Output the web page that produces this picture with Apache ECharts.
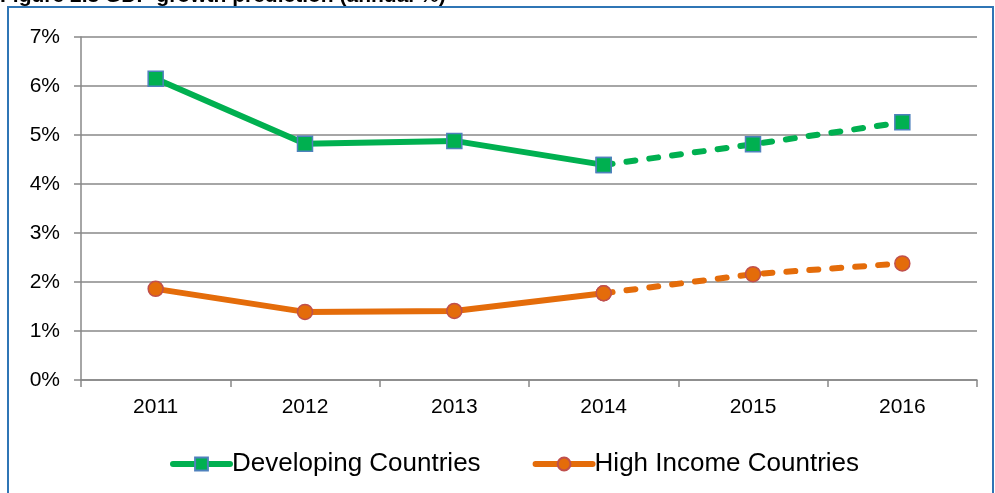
<!DOCTYPE html>
<html>
<head>
<meta charset="utf-8">
<script src="https://cdn.jsdelivr.net/npm/echarts@6/dist/echarts.min.js"></script>
<style>
  html, body { margin: 0; padding: 0; background: #fff; }
  #chart { width: 995px; height: 493px; }
</style>
</head>
<body>
<div id="chart"></div>
<script>
var years = ['2011', '2012', '2013', '2014', '2015', '2016'];
var yTicks = [0, 1, 2, 3, 4, 5, 6, 7];
// actual values up to 2014, forecast from 2014 onwards
var developingActual = [6.15, 4.82, 4.88, 4.39, null, null];
var developingForecast = [null, null, null, 4.39, 4.81, 5.26];
var highIncomeActual = [1.86, 1.39, 1.41, 1.77, null, null];
var highIncomeForecast = [null, null, null, 1.77, 2.16, 2.38];

var green = '#00B050';
var orange = '#E46C0A';

var chart = echarts.init(document.getElementById('chart'));

function lineSeries(name, data, color, symbol, border, dashed) {
    return {
        name: name,
        type: 'line',
        data: data,
        symbol: symbol,
        symbolSize: 15,
        showSymbol: true,
        connectNulls: false,
        z: dashed ? 2 : 3,
        lineStyle: { color: color, width: 6, type: dashed ? [9, 14] : 'solid', cap: 'round' },
        itemStyle: { color: color, borderColor: border, borderWidth: 1.5 },
        emphasis: { disabled: true },
        animation: false
    };
}

var option = {
    animation: false,
    graphic: [
        {
            type: 'text', left: 0, top: -14,
            style: { text: 'Figure 2.3 GDP growth prediction (annual %)', font: 'bold 21px Arial', fill: '#000' }
        },
        {
            type: 'rect',
            shape: { x: 8, y: 7, width: 985, height: 520 },
            style: { fill: 'none', stroke: '#2F75B5', lineWidth: 2 }
        }
    ],
    grid: { left: 81, right: 18, top: 37, bottom: 113, containLabel: false },
    legend: {
        bottom: 11,
        left: 165,
        itemWidth: 57,
        itemHeight: 16,
        itemGap: 52,
        lineStyle: { width: 6 },
        textStyle: { fontFamily: 'Arial', fontSize: 26, color: '#000', padding: [0, 0, 0, -3] },
        data: ['Developing Countries', 'High Income Countries']
    },
    xAxis: {
        type: 'category',
        data: years,
        boundaryGap: true,
        axisLine: { lineStyle: { color: '#888', width: 1.5 } },
        axisTick: { show: true, length: 7, lineStyle: { color: '#888', width: 1.5 } },
        axisLabel: { fontFamily: 'Arial', fontSize: 21, color: '#000', margin: 17 }
    },
    yAxis: {
        type: 'value',
        min: yTicks[0],
        max: yTicks[yTicks.length - 1],
        interval: 1,
        axisLine: { show: true, lineStyle: { color: '#888', width: 1.5 } },
        axisTick: { show: true, length: 7, lineStyle: { color: '#888', width: 1.5 } },
        splitLine: { lineStyle: { color: '#888', width: 1.5 } },
        axisLabel: { fontFamily: 'Arial', fontSize: 21, color: '#000', margin: 21,
            formatter: function (v) { return v + '%'; } }
    },
    series: [
        lineSeries('Developing Countries', developingActual, green, 'rect', '#4F81BD', false),
        lineSeries('Developing Countries', developingForecast, green, 'rect', '#4F81BD', true),
        lineSeries('High Income Countries', highIncomeActual, orange, 'circle', '#C0504D', false),
        lineSeries('High Income Countries', highIncomeForecast, orange, 'circle', '#C0504D', true)
    ]
};

chart.setOption(option);
</script>
</body>
</html>
